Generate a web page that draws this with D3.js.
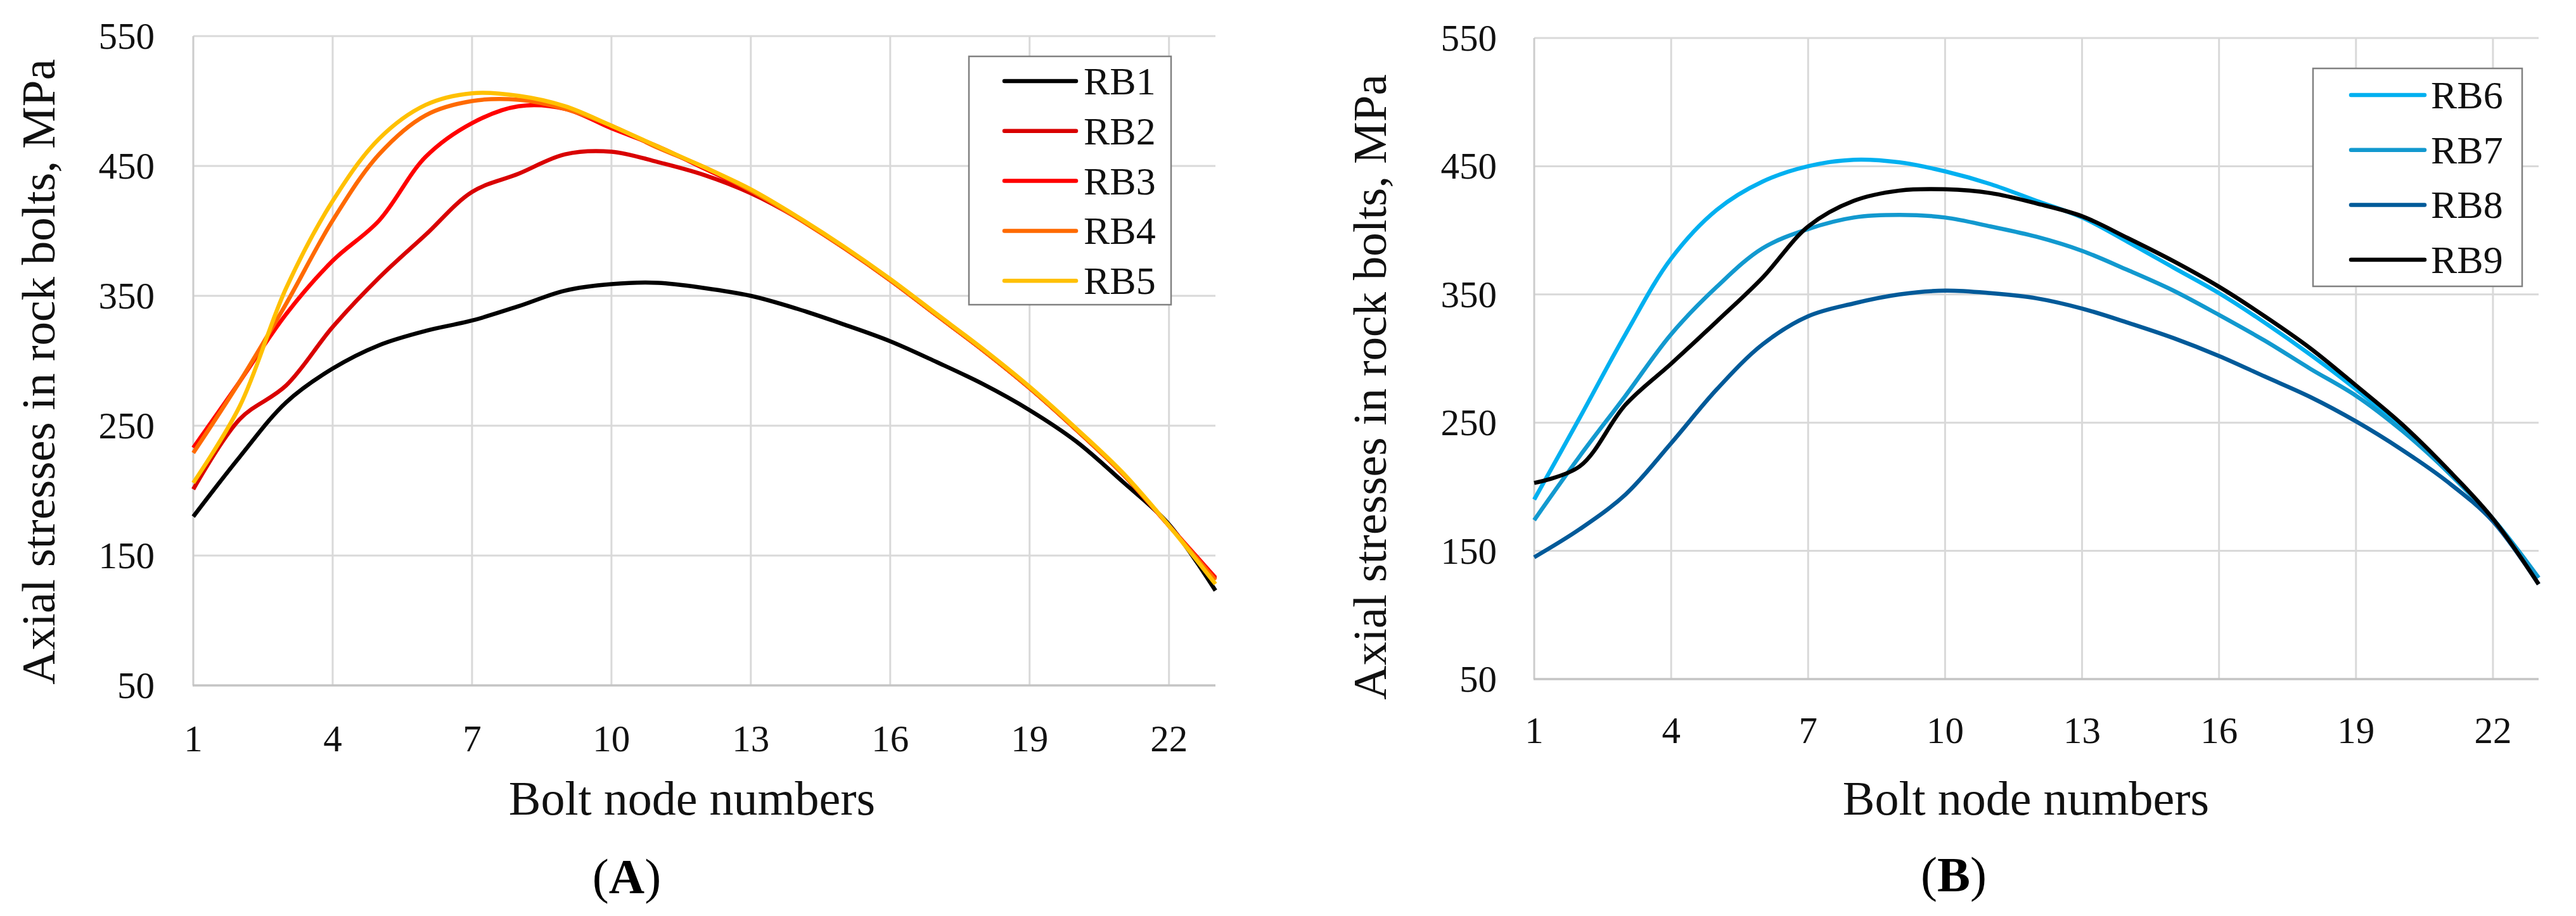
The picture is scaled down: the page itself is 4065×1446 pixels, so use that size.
<!DOCTYPE html>
<html>
<head>
<meta charset="utf-8">
<script src="https://cdn.jsdelivr.net/npm/d3@7"></script>
<style>
  html, body { margin: 0; padding: 0; background: #ffffff; }
  svg { display: block; }
</style>
</head>
<body>
<script>
// ---------------- DATA ----------------
const nodes = [1,2,3,4,5,6,7,8,9,10,11,12,13,14,15,16,17,18,19,20,21,22,23];
const xTickValues = [1,4,7,10,13,16,19,22];
const yTickValues = [50,150,250,350,450,550];

const seriesNamesA = ["RB1","RB2","RB3","RB4","RB5"];
const RB1 = [180,226,268,294,312,323,331,342,354,359,360,356,350,340,328,315,299,282,262,238,207,174,123];
const RB2 = [201,255,281,326,364,397,430,444,459,461,453,443,429,410,387,362,335,308,279,247,213,173,132];
const RB3 = [233,284,336,377,408,457,483,496,494,479,465,448,431,410,387,362,335,308,279,247,213,173,133];
const RB4 = [229,284,344,408,459,489,500,501,494,481,464,449,431,410,387,362,335,308,279,247,213,173,131];
const RB5 = [206,265,356,423,471,497,506,504,496,481,465,449,432,411,388,363,336,309,280,248,214,173,128];

const seriesNamesB = ["RB6","RB7","RB8","RB9"];
const RB6 = [190,254,319,378,416,438,450,455,453,446,436,423,410,391,371,351,328,303,276,246,212,175,129];
const RB7 = [174,224,271,319,356,386,401,410,412,410,403,395,384,369,353,334,314,292,271,244,212,175,129];
const RB8 = [145,167,194,234,276,311,333,343,350,353,351,347,339,328,316,302,286,270,251,229,204,173,124];
const RB9 = [203,216,264,296,329,363,403,423,431,432,429,421,411,394,376,356,333,308,279,249,214,175,124];

const colorsA = ["#000000","#d90000","#ff0000","#ff6a00","#ffc000"];
const colorsB = ["#00b0f0","#1299cf","#005a99","#000000"];

const xAxisTitle = "Bolt node numbers";
const yAxisTitle = "Axial stresses in rock bolts, MPa";

// ---------------- DRAW ----------------
const W = 4065, H = 1446;
const svg = d3.select("body").append("svg")
  .attr("width", W).attr("height", H)
  .attr("viewBox", `0 0 ${W} ${H}`);
svg.append("rect").attr("width", W).attr("height", H).attr("fill", "#fff");

const SERIF = "'Liberation Serif','Times New Roman',serif";

function drawPanel(cfg) {
  const g = svg.append("g");
  const x = d3.scaleLinear().domain([1, 23]).range([cfg.x0, cfg.x1]);
  const y = d3.scaleLinear().domain([50, 550]).range([cfg.yb, cfg.yt]);

  // horizontal gridlines
  g.append("g").selectAll("line").data(yTickValues.filter(v => v !== 50)).join("line")
    .attr("x1", cfg.x0).attr("x2", cfg.x1)
    .attr("y1", d => y(d)).attr("y2", d => y(d))
    .attr("stroke", "#d9d9d9").attr("stroke-width", 3);
  // vertical gridlines
  g.append("g").selectAll("line").data(xTickValues).join("line")
    .attr("x1", d => x(d)).attr("x2", d => x(d))
    .attr("y1", y(550)).attr("y2", y(50))
    .attr("stroke", d => d === 1 ? "#cccccc" : "#d9d9d9").attr("stroke-width", 3);
  // bottom axis line
  g.append("line")
    .attr("x1", cfg.x0 - 1).attr("x2", cfg.x1)
    .attr("y1", y(50)).attr("y2", y(50))
    .attr("stroke", "#c4c4c4").attr("stroke-width", 3.5);

  // y tick labels
  g.append("g").selectAll("text").data(yTickValues).join("text")
    .attr("x", cfg.yLabelX).attr("y", d => y(d) + 20)
    .attr("text-anchor", "end")
    .attr("font-family", SERIF).attr("font-size", 59).attr("fill", "#111")
    .text(d => d);
  // x tick labels
  g.append("g").selectAll("text").data(xTickValues).join("text")
    .attr("x", d => x(d)).attr("y", cfg.xLabelY)
    .attr("text-anchor", "middle")
    .attr("font-family", SERIF).attr("font-size", 59).attr("fill", "#111")
    .text(d => d);

  // axis titles
  g.append("text")
    .attr("x", cfg.xTitleX).attr("y", 1286)
    .attr("text-anchor", "middle")
    .attr("font-family", SERIF).attr("font-size", 76).attr("fill", "#111")
    .text(xAxisTitle);
  g.append("text")
    .attr("transform", `translate(${cfg.yTitleX},${cfg.yTitleY}) rotate(-90)`)
    .attr("text-anchor", "middle")
    .attr("font-family", SERIF).attr("font-size", 75).attr("fill", "#111")
    .text(yAxisTitle);

  // panel letter
  const lab = g.append("text")
    .attr("x", cfg.letterX).attr("y", cfg.letterY)
    .attr("text-anchor", "middle")
    .attr("font-family", SERIF).attr("font-size", 78).attr("fill", "#000");
  lab.append("tspan").text("(");
  lab.append("tspan").attr("font-weight", "bold").text(cfg.letter);
  lab.append("tspan").text(")");

  // lines
  const line = d3.line()
    .x((d, i) => x(nodes[i]))
    .y(d => y(d))
    .curve(d3.curveCatmullRom.alpha(0.5));
  g.append("g").selectAll("path").data(cfg.series).join("path")
    .attr("d", d => line(d))
    .attr("fill", "none")
    .attr("stroke", (d, i) => cfg.colors[i])
    .attr("stroke-width", 6.5)
    .attr("stroke-linejoin", "round")
    .attr("stroke-linecap", "butt");

  // legend
  const L = cfg.legend;
  const lg = g.append("g");
  lg.append("rect")
    .attr("x", L.x).attr("y", L.y).attr("width", L.w).attr("height", L.h)
    .attr("fill", "#fff").attr("stroke", "#808080").attr("stroke-width", 2.5);
  const rows = lg.selectAll("g.row").data(cfg.names).join("g").attr("class", "row");
  rows.append("line")
    .attr("x1", L.lx1).attr("x2", L.lx2)
    .attr("y1", (d, i) => L.ry0 + i * L.dy).attr("y2", (d, i) => L.ry0 + i * L.dy)
    .attr("stroke", (d, i) => cfg.colors[i]).attr("stroke-width", 6.5)
    .attr("stroke-linecap", "round");
  rows.append("text")
    .attr("x", L.tx).attr("y", (d, i) => L.ry0 + i * L.dy + 21)
    .attr("font-family", SERIF).attr("font-size", 62).attr("fill", "#111")
    .text(d => d);
}

drawPanel({
  x0: 305, x1: 1918, yb: 1082, yt: 57,
  yLabelX: 244, xLabelY: 1186,
  xTitleX: 1092, yTitleX: 86, yTitleY: 587,
  letter: "A", letterX: 989, letterY: 1410,
  series: [RB1, RB2, RB3, RB4, RB5], colors: colorsA, names: seriesNamesA,
  legend: { x: 1529, y: 89, w: 319, h: 392, lx1: 1585, lx2: 1698, tx: 1710, ry0: 128, dy: 78.8 }
});

drawPanel({
  x0: 2421, x1: 4006, yb: 1072, yt: 60,
  yLabelX: 2362, xLabelY: 1173,
  xTitleX: 3197, yTitleX: 2187, yTitleY: 611,
  letter: "B", letterX: 3083, letterY: 1407,
  series: [RB6, RB7, RB8, RB9], colors: colorsB, names: seriesNamesB,
  legend: { x: 3650, y: 108, w: 330, h: 344, lx1: 3710, lx2: 3826, tx: 3836, ry0: 150, dy: 86.7 }
});
</script>
</body>
</html>
